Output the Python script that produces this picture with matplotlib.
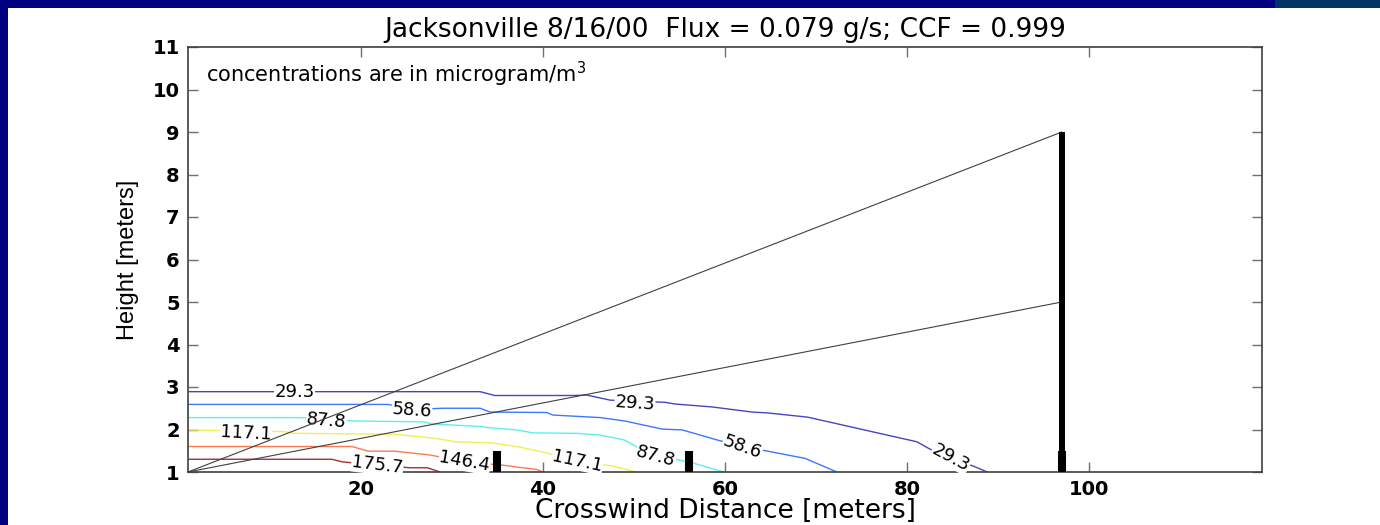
import matplotlib
matplotlib.use("Agg")
import matplotlib.pyplot as plt
from matplotlib.patches import Rectangle

# contour levels (microgram/m^3) and their line colours
levels = [29.3, 58.6, 87.8, 117.1, 146.4, 175.7]
level_colors = ['#4646be', '#3c78ff', '#5af0f0', '#f0f050', '#ff7850', '#a03232']

# traced contour lines (crosswind distance, height)
c293_x = [1, 33.1, 34.7, 43.3, 44.8, 47.4, 53.4, 54.5, 58.6, 63.0, 64.7, 69.1, 81.1, 82.5, 87.5, 88.8]
c293_y = [2.89, 2.89, 2.80, 2.80, 2.81, 2.69, 2.64, 2.60, 2.53, 2.41, 2.39, 2.29, 1.71, 1.54, 1.12, 1.0]
c586_x = [1, 23.0, 25.6, 29.0, 33.1, 34.2, 40.4, 41.1, 46.3, 49.0, 53.1, 55.3, 59.2, 61.9, 64.7, 68.8, 72.3]
c586_y = [2.59, 2.59, 2.47, 2.50, 2.50, 2.41, 2.40, 2.34, 2.28, 2.20, 2.01, 1.99, 1.75, 1.60, 1.49, 1.32, 1.0]
c878_x = [1, 13.5, 19.3, 26.8, 27.9, 33.1, 34.2, 37.1, 38.9, 43.7, 46.3, 49.0, 50.3, 52.4, 56.5, 59.9]
c878_y = [2.28, 2.28, 2.20, 2.18, 2.13, 2.07, 2.04, 1.99, 1.92, 1.91, 1.87, 1.75, 1.59, 1.40, 1.21, 1.0]
c1171_x = [1, 11.6, 12.7, 23.7, 27.9, 30.5, 34.2, 37.1, 40.4, 43.8, 47.7, 50.2]
c1171_y = [1.99, 1.95, 1.91, 1.89, 1.80, 1.71, 1.69, 1.60, 1.45, 1.26, 1.14, 1.0]
c1464_x = [1, 19.0, 20.8, 23.7, 27.6, 31.4, 35.6, 39.3, 40.0]
c1464_y = [1.60, 1.60, 1.49, 1.49, 1.40, 1.24, 1.16, 1.06, 1.0]
c1757_x = [1, 16.8, 17.9, 21.8, 25.4, 27.3, 28.7]
c1757_y = [1.30, 1.30, 1.24, 1.16, 1.10, 1.10, 1.0]
contour_x = [c293_x, c586_x, c878_x, c1171_x, c1464_x, c1757_x]
contour_y = [c293_y, c586_y, c878_y, c1171_y, c1464_y, c1757_y]

# inline contour labels
label_text = ['29.3', '29.3', '29.3', '58.6', '58.6', '87.8', '87.8', '117.1', '117.1', '146.4', '175.7']
label_x = [12.7, 50.1, 84.8, 25.6, 61.9, 16.2, 52.4, 7.4, 43.8, 31.4, 21.8]
label_y = [2.89, 2.62, 1.33, 2.46, 1.59, 2.20, 1.38, 1.92, 1.26, 1.24, 1.16]
label_rot = [0, -4, -28, -4, -20, -5, -15, -3, -12, -10, -7]

# samplers (short bars) and tower, plus the two sight lines from the source
sampler_x = [35, 56, 97]
sampler_top = 1.5
tower_x = 97
tower_top = 9
source = (1, 1)
sight_end_y = [9, 5]

fig = plt.figure(figsize=(13.8, 5.25), dpi=100, facecolor='#000080')
fig.patches.append(Rectangle((8 / 1380, 0), 1, 1 - 8 / 525, transform=fig.transFigure,
                             facecolor='white', edgecolor='none', zorder=-10))
fig.patches.append(Rectangle((1275 / 1380, 1 - 8 / 525), 1, 8 / 525, transform=fig.transFigure,
                             facecolor='#003366', edgecolor='none', zorder=-10))

ax = fig.add_axes([188 / 1380, 1 - 472 / 525, 1074 / 1380, 425 / 525])
ax.set_zorder(1)

for xs, ys, col in zip(contour_x, contour_y, level_colors):
    ax.plot(xs, ys, color=col, lw=1.0, zorder=2)

for t, x, y, r in zip(label_text, label_x, label_y, label_rot):
    ax.text(x, y, t, ha='center', va='center', rotation=r, rotation_mode='anchor',
            fontsize=13, color='black', zorder=3,
            bbox=dict(facecolor='white', edgecolor='none', pad=0.3))

for ye in sight_end_y:
    ax.plot([source[0], tower_x], [source[1], ye], color='#404040', lw=0.8, zorder=4)

ax.plot([tower_x, tower_x], [1, tower_top], color='black', lw=4.3,
        solid_capstyle='butt', zorder=5)
for sx in sampler_x:
    ax.plot([sx, sx], [1, sampler_top], color='black', lw=5.8,
            solid_capstyle='butt', zorder=5)

ax.text(3.0, 10.18, 'concentrations are in microgram/m$^3$', fontsize=15,
        va='baseline', ha='left')

ax.set_xlim(1, 119)
ax.set_ylim(1, 11)
ax.set_xticks([20, 40, 60, 80, 100])
ax.set_yticks(range(1, 12))
ax.tick_params(direction='in', length=7.5, width=1, color='#707070',
               top=True, right=True, labelsize=14, pad=6)
for lab in ax.get_xticklabels() + ax.get_yticklabels():
    lab.set_fontweight('bold')
for sp in ax.spines.values():
    sp.set_color('#404040')
    sp.set_linewidth(1.2)

ax.set_title('Jacksonville 8/16/00  Flux = 0.079 g/s; CCF = 0.999', fontsize=19, pad=7)
ax.set_xlabel('Crosswind Distance [meters]', fontsize=19, labelpad=-1)
ax.set_ylabel('Height [meters]', fontsize=17, labelpad=10,
              family=['Liberation Sans Narrow', 'Liberation Sans'])

fig.savefig('out.png', dpi=100, facecolor=fig.get_facecolor())
